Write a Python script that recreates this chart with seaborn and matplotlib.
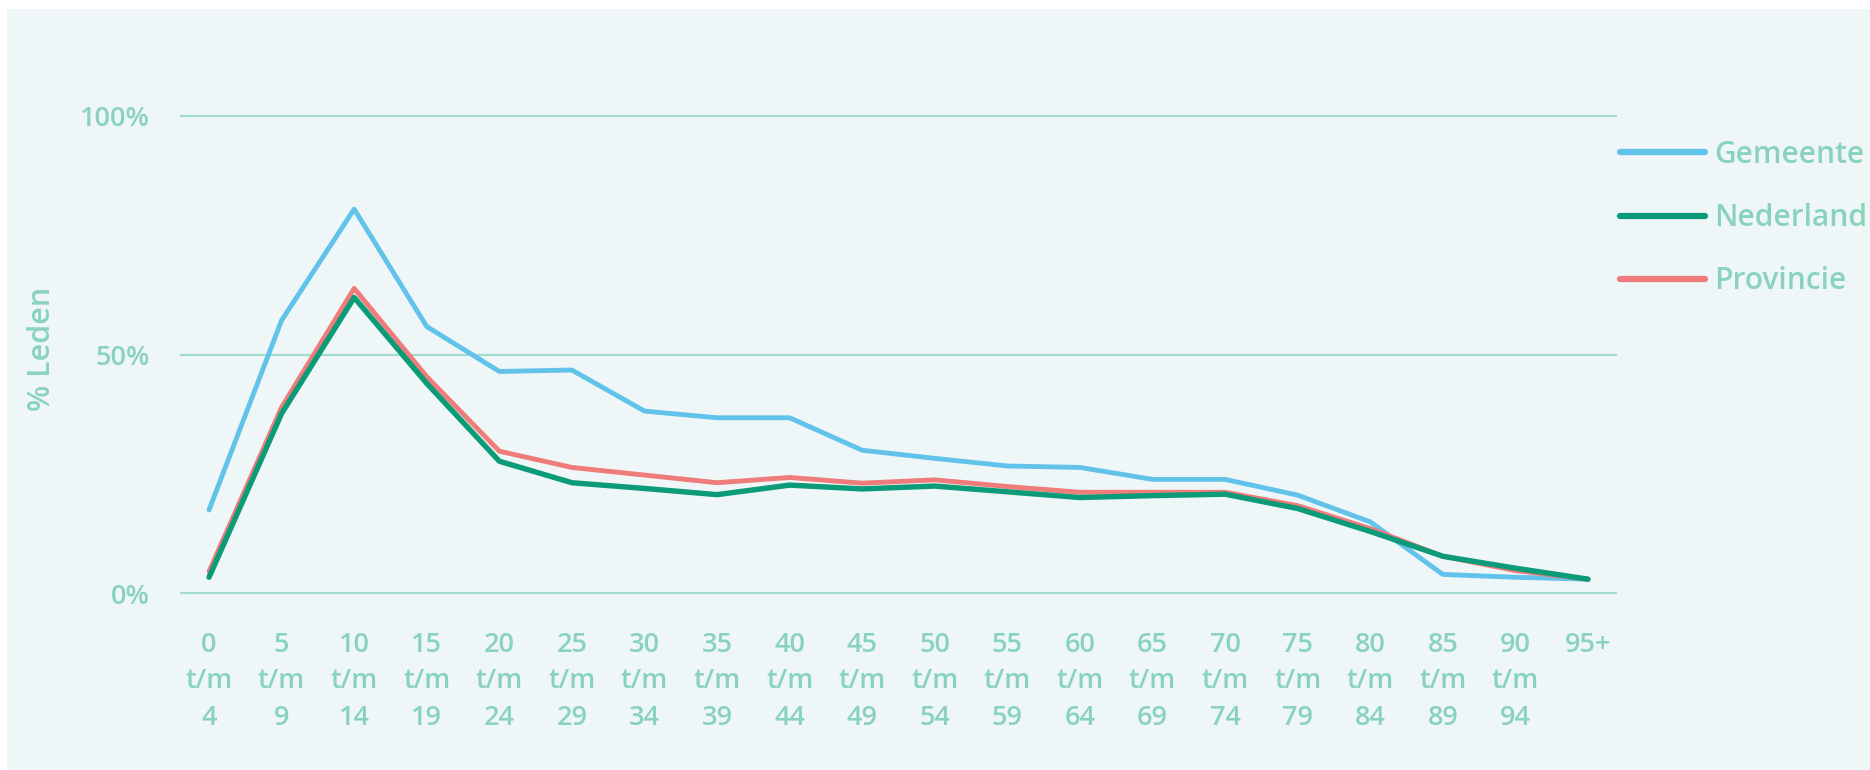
import matplotlib
matplotlib.use("Agg")
import matplotlib.pyplot as plt
from matplotlib.patches import Rectangle
import seaborn as sns
import pandas as pd

# Age groups (x categories)
age_groups = ["0\nt/m\n4", "5\nt/m\n9", "10\nt/m\n14", "15\nt/m\n19", "20\nt/m\n24",
              "25\nt/m\n29", "30\nt/m\n34", "35\nt/m\n39", "40\nt/m\n44", "45\nt/m\n49",
              "50\nt/m\n54", "55\nt/m\n59", "60\nt/m\n64", "65\nt/m\n69", "70\nt/m\n74",
              "75\nt/m\n79", "80\nt/m\n84", "85\nt/m\n89", "90\nt/m\n94", "95+"]

# Share of members per age group (%)
gemeente = [17.5, 57.2, 80.5, 55.9, 46.5, 46.8, 38.2, 36.8, 36.8, 30.0,
            28.3, 26.7, 26.4, 23.9, 23.9, 20.6, 15.0, 4.0, 3.4, 3.0]
nederland = [3.4, 37.7, 62.0, 44.0, 27.7, 23.2, 22.0, 20.7, 22.7, 21.9,
             22.5, 21.3, 20.1, 20.5, 20.8, 17.8, 13.0, 7.8, 5.3, 3.0]
provincie = [4.6, 39.0, 63.9, 45.4, 29.8, 26.4, 24.8, 23.2, 24.3, 23.1,
             23.8, 22.4, 21.2, 21.2, 21.2, 18.4, 13.6, 7.8, 4.8, 3.0]

y_ticks = [0, 50, 100]
y_tick_labels = ["0%", "50%", "100%"]

TEXT = "#89d3be"
GRID = "#a2dccb"
C_GEM = "#62c3ea"
C_NED = "#0c9b78"
C_PROV = "#f07b7b"

sns.set_style("white")
plt.rcParams["font.family"] = ["Open Sans", "DejaVu Sans"]
plt.rcParams["font.weight"] = "semibold"

W, H = 1870, 770
fig = plt.figure(figsize=(W / 100, H / 100), dpi=100, facecolor="white")
fig.patches.append(Rectangle((7 / W, 0), 1 - 7 / W, 1 - 9 / H, transform=fig.transFigure,
                             facecolor="#eff6f8", edgecolor="none", zorder=-10))

# plot area: x from 180 to 1617 px, y(-2%) at 603 px, y(102%) at 106.4 px
ax = fig.add_axes([180 / W, 1 - 603.05 / H, 1437 / W, 496.6 / H])
ax.set_facecolor("none")

x = list(range(len(age_groups)))
df = pd.DataFrame({"x": x, "Gemeente": gemeente, "Nederland": nederland, "Provincie": provincie})

sns.lineplot(data=df, x="x", y="Gemeente", ax=ax, color=C_GEM, linewidth=3.5, label="Gemeente")
sns.lineplot(data=df, x="x", y="Provincie", ax=ax, color=C_PROV, linewidth=3.5, label="Provincie")
sns.lineplot(data=df, x="x", y="Nederland", ax=ax, color=C_NED, linewidth=3.9, label="Nederland")

ax.set_xlim(-0.4, 19.4)
ax.set_ylim(-2, 102)
ax.set_yticks(y_ticks)
ax.set_yticklabels(y_tick_labels)
ax.set_xticks(x)
ax.set_xticklabels(age_groups, linespacing=1.4)
ax.tick_params(axis="both", length=0, colors=TEXT, labelsize=19.5)
ax.tick_params(axis="x", pad=20)
ax.tick_params(axis="y", pad=22)
ax.set_xlabel("")
ax.set_ylabel("")
ax.yaxis.grid(True, color=GRID, linewidth=1.6)
ax.xaxis.grid(False)
ax.set_axisbelow(True)
for s in ax.spines.values():
    s.set_visible(False)

fig.text(42 / W, 1 - 349 / H, "% Leden", rotation=90, ha="center", va="center",
         color=TEXT, fontsize=22)

handles, labels = ax.get_legend_handles_labels()
order = [labels.index(n) for n in ["Gemeente", "Nederland", "Provincie"]]
leg = ax.legend([handles[i] for i in order], [labels[i] for i in order],
                loc="center left", bbox_to_anchor=(1620 / W, 1 - 218 / H),
                bbox_transform=fig.transFigure, frameon=False, fontsize=21.5,
                handlelength=2.85, handletextpad=0.3, labelspacing=1.12,
                borderpad=0, borderaxespad=0)
for t in leg.get_texts():
    t.set_color(TEXT)
for lh in leg.get_lines():
    lh.set_linewidth(4.5)
    lh.set_solid_capstyle("round")

fig.savefig("out.png", dpi=100, facecolor=fig.get_facecolor())
